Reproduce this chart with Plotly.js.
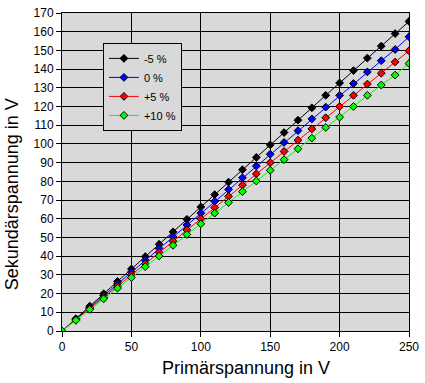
<!DOCTYPE html>
<html>
<head>
<meta charset="utf-8">
<script src="https://cdn.plot.ly/plotly-3.0.1.min.js"></script>
<style>html,body{margin:0;padding:0;background:#fff;}#chart{width:425px;height:383px;}</style>
</head>
<body>
<div id="chart"></div>
<script>
const primary = [0, 10, 20, 30, 40, 50, 60, 70, 80, 90, 100, 110, 120, 130, 140, 150, 160, 170, 180, 190, 200, 210, 220, 230, 240, 250];
const minus5 = [0, 6.6, 13.3, 19.9, 26.5, 33.2, 39.8, 46.4, 53.0, 59.7, 66.3, 72.9, 79.6, 86.2, 92.8, 99.5, 106.1, 112.7, 119.3, 126.0, 132.6, 139.2, 145.9, 152.3, 159.0, 165.5];
const zero = [0, 6.3, 12.6, 18.9, 25.2, 31.5, 37.8, 44.1, 50.4, 56.7, 63.0, 69.3, 75.6, 81.9, 88.2, 94.5, 100.8, 107.1, 113.4, 119.7, 126.0, 132.3, 138.5, 144.5, 150.5, 157.3];
const plus5 = [0, 6.0, 12.0, 18.0, 24.0, 30.0, 36.0, 42.0, 48.0, 54.0, 60.0, 66.0, 72.0, 78.0, 84.0, 90.0, 96.0, 102.0, 108.0, 114.0, 120.0, 126.0, 132.0, 137.8, 143.8, 149.8];
const plus10 = [0, 5.7, 11.5, 17.2, 22.9, 28.6, 34.4, 40.1, 45.8, 51.6, 57.3, 63.0, 68.7, 74.5, 80.2, 85.9, 91.6, 97.4, 103.1, 108.8, 114.3, 120.0, 126.0, 131.5, 136.8, 143.0];
const seriesNames = ['-5 %', '0 %', '+5 %', '+10 %'];
const seriesColors = ['#000000', '#0000ff', '#ff0000', '#00ff00'];
const seriesData = [minus5, zero, plus5, plus10];
const xTitle = 'Primärspannung in V';
const yTitle = 'Sekundärspannung in V';

const traces = seriesData.map((ys, i) => ({
  x: primary, y: ys, name: seriesNames[i], type: 'scatter', mode: 'lines+markers',
  line: {color: seriesColors[i], width: 1},
  marker: {symbol: 'diamond', size: 6, color: seriesColors[i], line: {color: '#000', width: 1}}
}));

const layout = {
  width: 425, height: 383,
  margin: {l: 62, r: 16, t: 13, b: 52},
  paper_bgcolor: '#ffffff', plot_bgcolor: '#d9d9d9',
  font: {family: 'Arial, Liberation Sans, sans-serif', size: 12, color: '#000'},
  showlegend: true,
  legend: {x: 0.118, y: 0.906, xanchor: 'left', yanchor: 'top', bgcolor: '#d9d9d9', bordercolor: '#000', borderwidth: 1,
    font: {size: 11, family: 'Arial, Liberation Sans, sans-serif'}, itemwidth: 30, tracegroupgap: 0},
  xaxis: {range: [0, 250], tickvals: [0, 50, 100, 150, 200, 250], showgrid: true, gridcolor: '#000', gridwidth: 1,
    showline: true, linecolor: '#000', linewidth: 1, mirror: true, ticks: 'outside', ticklen: 5, tickcolor: '#000',
    zeroline: false, tickfont: {size: 12}},
  yaxis: {range: [0, 170], dtick: 10, showgrid: true, gridcolor: '#000', gridwidth: 1,
    showline: true, linecolor: '#000', linewidth: 1, mirror: true, ticks: 'outside', ticklen: 5, tickcolor: '#000',
    zeroline: false, tickfont: {size: 12}},
  annotations: [
    {text: xTitle, xref: 'paper', yref: 'paper', x: 0.53, y: -0.115, xanchor: 'center', yanchor: 'middle',
     showarrow: false, font: {size: 18}},
    {text: yTitle, xref: 'paper', yref: 'paper', x: -0.144, y: 0.43, xanchor: 'center', yanchor: 'middle',
     textangle: -90, showarrow: false, font: {size: 18}}
  ]
};
Plotly.newPlot('chart', traces, layout, {displayModeBar: false, staticPlot: true});
</script>
</body>
</html>
